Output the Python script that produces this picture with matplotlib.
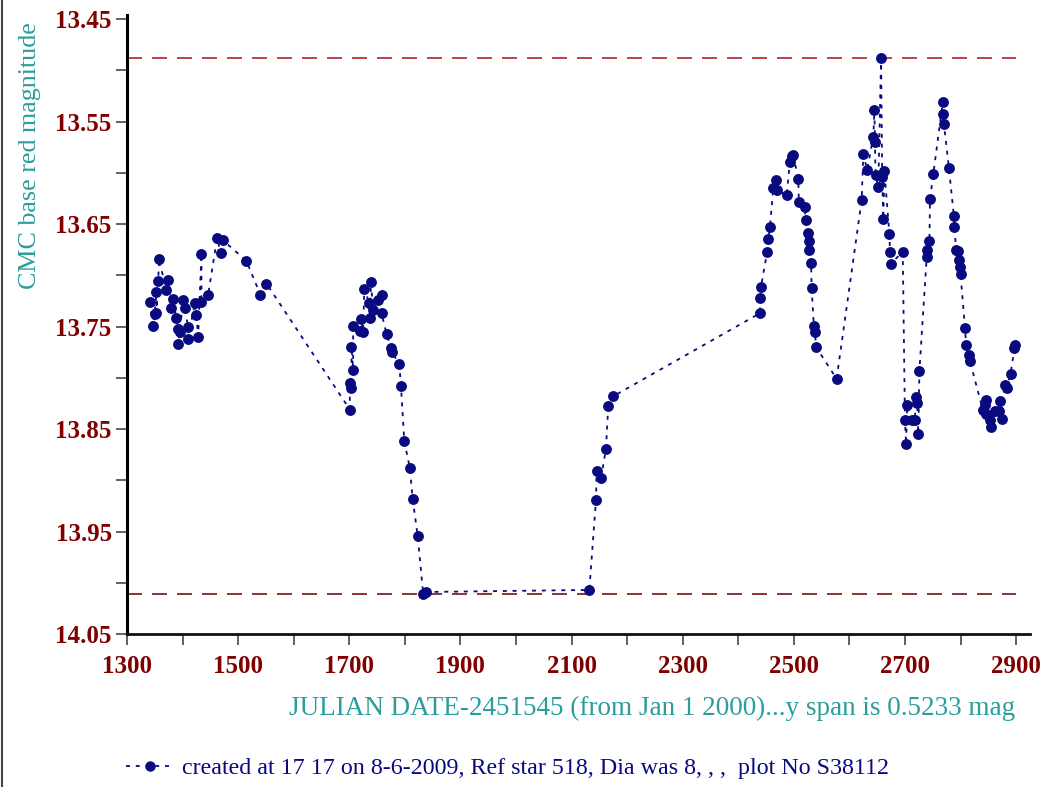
import matplotlib
matplotlib.use("Agg")
import matplotlib.pyplot as plt
from matplotlib.lines import Line2D
from matplotlib.ticker import MultipleLocator, FixedLocator

# ---- data ----
jd = [1341, 1346, 1350, 1353, 1353, 1356, 1358, 1370, 1373, 1380, 1383, 1389,
      1392, 1392, 1395, 1401, 1404, 1410, 1410, 1422, 1425, 1428, 1434, 1434,
      1446, 1462, 1469, 1473, 1515, 1540, 1551,
      1701, 1701, 1704, 1704, 1707, 1707, 1719, 1721, 1725, 1727, 1736, 1737,
      1739, 1743, 1752, 1758, 1758, 1767, 1775, 1777, 1790, 1793, 1799, 1809,
      1814, 1823, 1833, 1838,
      2132, 2144, 2145, 2153, 2162, 2166, 2175,
      2439, 2440, 2441, 2452, 2454, 2457, 2463, 2468, 2470, 2487, 2493, 2496,
      2499, 2508, 2509, 2520, 2521, 2526, 2527, 2528, 2531, 2532, 2536, 2538,
      2540, 2577,
      2622, 2625, 2632, 2643, 2645, 2646, 2647, 2652, 2657, 2659, 2661, 2663,
      2672, 2673, 2674, 2696, 2700, 2702, 2704, 2712, 2718, 2719, 2722, 2724,
      2726, 2739, 2740, 2744, 2745, 2751, 2768, 2769, 2770, 2779, 2788, 2789,
      2792, 2795, 2798, 2799, 2800, 2808, 2810, 2816, 2817, 2840, 2844, 2845,
      2846, 2853, 2854, 2862, 2869, 2871, 2874, 2880, 2883, 2890, 2897, 2898]
mag = [13.726, 13.749, 13.738, 13.716, 13.737, 13.706, 13.684, 13.714, 13.705,
       13.732, 13.723, 13.742, 13.752, 13.767, 13.755, 13.724, 13.732, 13.750,
       13.762, 13.727, 13.739, 13.760, 13.679, 13.726, 13.719, 13.664, 13.678,
       13.666, 13.686, 13.719, 13.708,
       13.831, 13.805, 13.810, 13.770, 13.792, 13.749, 13.754, 13.743, 13.755,
       13.713, 13.727, 13.742, 13.707, 13.734, 13.724, 13.719, 13.737, 13.757,
       13.771, 13.775, 13.787, 13.808, 13.862, 13.888, 13.918, 13.954, 14.0108,
       14.009,
       14.007, 13.919, 13.891, 13.898, 13.869, 13.828, 13.818,
       13.737, 13.722, 13.711, 13.677, 13.665, 13.653, 13.615, 13.607, 13.617,
       13.622, 13.589, 13.584, 13.583, 13.606, 13.628, 13.633, 13.646, 13.659,
       13.667, 13.675, 13.688, 13.712, 13.749, 13.755, 13.770, 13.801,
       13.627, 13.582, 13.597, 13.565, 13.539, 13.570, 13.602, 13.614, 13.4875,
       13.604, 13.645, 13.598, 13.660, 13.677, 13.689, 13.677, 13.841, 13.865,
       13.827, 13.841, 13.841, 13.819, 13.825, 13.855, 13.793, 13.682, 13.675,
       13.667, 13.626, 13.601, 13.531, 13.543, 13.552, 13.595, 13.642, 13.653,
       13.675, 13.676, 13.685, 13.692, 13.699, 13.751, 13.768, 13.778, 13.784,
       13.831, 13.827, 13.835, 13.822, 13.841, 13.848, 13.832, 13.832, 13.823,
       13.840, 13.807, 13.810, 13.796, 13.771, 13.768]

upper_limit = 13.4875
lower_limit = 14.0108
x_major = [1300, 1500, 1700, 1900, 2100, 2300, 2500, 2700, 2900]
y_major = [13.45, 13.55, 13.65, 13.75, 13.85, 13.95, 14.05]
y_tick_labels = ["13.45", "13.55", "13.65", "13.75", "13.85", "13.95", "14.05"]

xlabel = "JULIAN DATE-2451545 (from Jan 1 2000)...y span is 0.5233 mag"
ylabel = "CMC base red magnitude"
legend_text = "created at 17 17 on 8-6-2009, Ref star 518, Dia was 8, , ,  plot No S38112"

# ---- styling ----
plt.rcParams['font.family'] = ['Liberation Serif', 'DejaVu Serif']
navy = '#0a0a80'
tick_red = '#800000'
teal = '#2a9d9d'

fig = plt.figure(figsize=(10.45, 7.87), dpi=100)
ax = fig.add_axes([127/1045, 153/787, 903/1045, 619/787])

ax.plot(jd, mag, color=navy, linestyle=(0, (2.2, 3.2)), linewidth=1.3,
        marker='o', markersize=6.8, markerfacecolor=navy, markeredgecolor=navy,
        zorder=3)

ax.plot([1300, 2900], [upper_limit, upper_limit], color='#b22222',
        linestyle=(0, (9, 6)), linewidth=1.2, zorder=2)
ax.plot([1300, 2900], [lower_limit, lower_limit], color='#7a1010',
        linestyle=(0, (9, 6)), linewidth=1.2, zorder=2)

ax.set_xlim(1300, 2925)
ax.set_ylim(14.05, 13.446)

ax.xaxis.set_major_locator(FixedLocator(x_major))
ax.xaxis.set_minor_locator(MultipleLocator(100))
ax.yaxis.set_major_locator(FixedLocator(y_major))
ax.set_yticklabels(y_tick_labels)
ax.yaxis.set_minor_locator(FixedLocator([13.50, 13.60, 13.70, 13.80, 13.90, 14.00]))

for s in ['top', 'right']:
    ax.spines[s].set_visible(False)
ax.spines['left'].set_linewidth(2.2)
ax.spines['bottom'].set_linewidth(2.0)
ax.spines['left'].set_color('black')
ax.spines['bottom'].set_color('#111111')

ax.tick_params(axis='both', which='both', direction='out', length=8,
               width=1.3, color='#555555')
ax.tick_params(axis='y', which='major', pad=3, labelsize=18,
               labelcolor=tick_red)
ax.tick_params(axis='x', which='major', pad=7, labelsize=18,
               labelcolor=tick_red)
for lab in ax.get_xticklabels() + ax.get_yticklabels():
    lab.set_fontweight('bold')

fig.text(30/1045, 1 - 22/787, ylabel, rotation=90, ha='center', va='top',
         fontsize=18.7, color=teal)
fig.text(1015/1045, 1 - 708/787, xlabel, ha='right', va='center',
         fontsize=19.5, color=teal)

handle = Line2D([], [], color=navy, linestyle=(0, (2.2, 3.2)), linewidth=1.3,
                marker='o', markersize=6.5, markerfacecolor=navy,
                markeredgecolor=navy)
fig.legend([handle], [legend_text], loc='center left',
           bbox_to_anchor=(126/1045, 1 - 768/787), frameon=False,
           fontsize=17.3, labelcolor=navy, handlelength=2.0, handletextpad=0.35,
           borderpad=0, borderaxespad=0)

fig.add_artist(Line2D([1.5/1045, 1.5/1045], [0, 1], transform=fig.transFigure,
                      color='#444444', linewidth=1.5))

fig.savefig('out.png', dpi=100)
